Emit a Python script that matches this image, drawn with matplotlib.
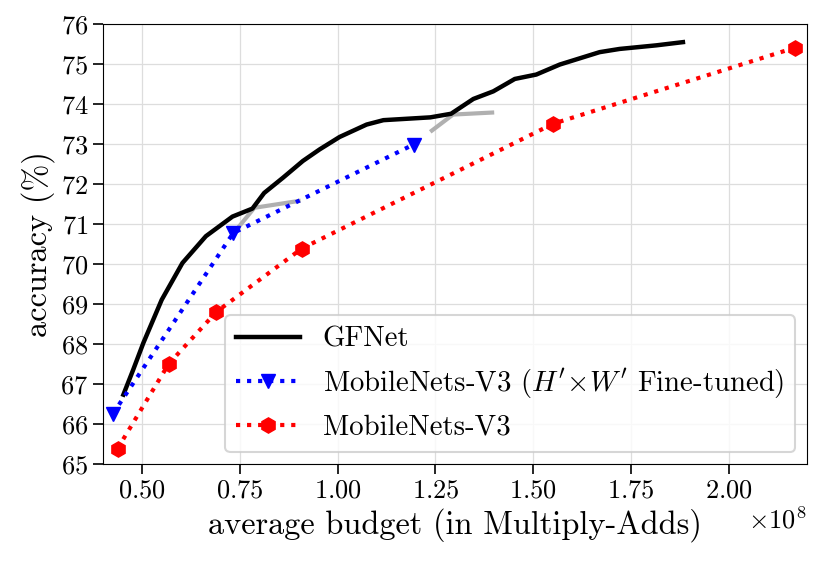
import matplotlib
matplotlib.use('Agg')
import matplotlib.pyplot as plt
import numpy as np

plt.rcParams['font.family'] = 'serif'
plt.rcParams['font.serif'] = ['cmr10']
plt.rcParams['mathtext.fontset'] = 'cm'
plt.rcParams['axes.formatter.use_mathtext'] = True
plt.rcParams['axes.unicode_minus'] = False

# GFNet curve (budget in 1e8 Multiply-Adds, accuracy in %)
gfnet_budget = [0.452, 0.477, 0.503, 0.55, 0.603, 0.663, 0.731, 0.782, 0.812, 0.86,
                0.911, 0.954, 1.005, 1.074, 1.117, 1.237, 1.29, 1.347, 1.398, 1.453,
                1.508, 1.568, 1.67, 1.721, 1.815, 1.883]
gfnet_acc = [66.73, 67.35, 68.02, 69.1, 70.02, 70.69, 71.18, 71.38, 71.77, 72.15,
             72.57, 72.86, 73.17, 73.48, 73.59, 73.66, 73.75, 74.12, 74.31, 74.62,
             74.73, 74.98, 75.29, 75.37, 75.46, 75.54]

# grey side branches
branch1_budget = [0.745, 0.787, 0.9]
branch1_acc = [70.9, 71.4, 71.57]
branch2_budget = [1.241, 1.295, 1.395]
branch2_acc = [73.33, 73.73, 73.78]

# MobileNets-V3 (H'xW' fine-tuned)
ft_budget = [0.425, 0.733, 1.194]
ft_acc = [66.25, 70.77, 72.98]

# MobileNets-V3
mb_budget = [0.437, 0.568, 0.69, 0.908, 1.551, 2.169]
mb_acc = [65.38, 67.5, 68.8, 70.38, 73.5, 75.4]

scale = 1e8

fig, ax = plt.subplots(figsize=(8.31, 5.65), dpi=100)
ax.grid(True, color='#dddddd', linewidth=0.9)
ax.set_axisbelow(True)

ax.plot(np.array(branch1_budget) * scale, branch1_acc, color='#b0b0b0', linewidth=3)
ax.plot(np.array(branch2_budget) * scale, branch2_acc, color='#b0b0b0', linewidth=3)
ax.plot(np.array(gfnet_budget) * scale, gfnet_acc, color='black', linewidth=3.2, label='GFNet')
ax.plot(np.array(ft_budget) * scale, ft_acc, color='blue', linestyle=':', linewidth=3,
        marker='v', markersize=10, label=r"MobileNets-V3 ($H'\!\times\! W'$ Fine-tuned)")
ax.plot(np.array(mb_budget) * scale, mb_acc, color='red', linestyle=':', linewidth=3,
        marker='h', markersize=11, label='MobileNets-V3')

ax.set_xlim(0.4 * scale, 2.2 * scale)
ax.set_ylim(65, 76)
ax.set_xticks(np.array([0.5, 0.75, 1.0, 1.25, 1.5, 1.75, 2.0]) * scale)
ax.set_yticks(range(65, 77))
ax.tick_params(labelsize=19, length=7, width=1.2)
ax.xaxis.get_offset_text().set_fontsize(19)

ax.set_xlabel('average budget (in Multiply-Adds)', fontsize=23.3)
ax.set_ylabel('accuracy (%)', fontsize=23.3)

leg = ax.legend(loc='lower right', fontsize=20.7, fancybox=True, framealpha=0.8,
                handlelength=2.2, borderaxespad=0.4)
leg.get_frame().set_edgecolor('#cccccc')
leg.get_frame().set_linewidth(1.5)

fig.subplots_adjust(left=0.124, right=0.971, top=0.958, bottom=0.179)
fig.savefig('out.png', dpi=100)
